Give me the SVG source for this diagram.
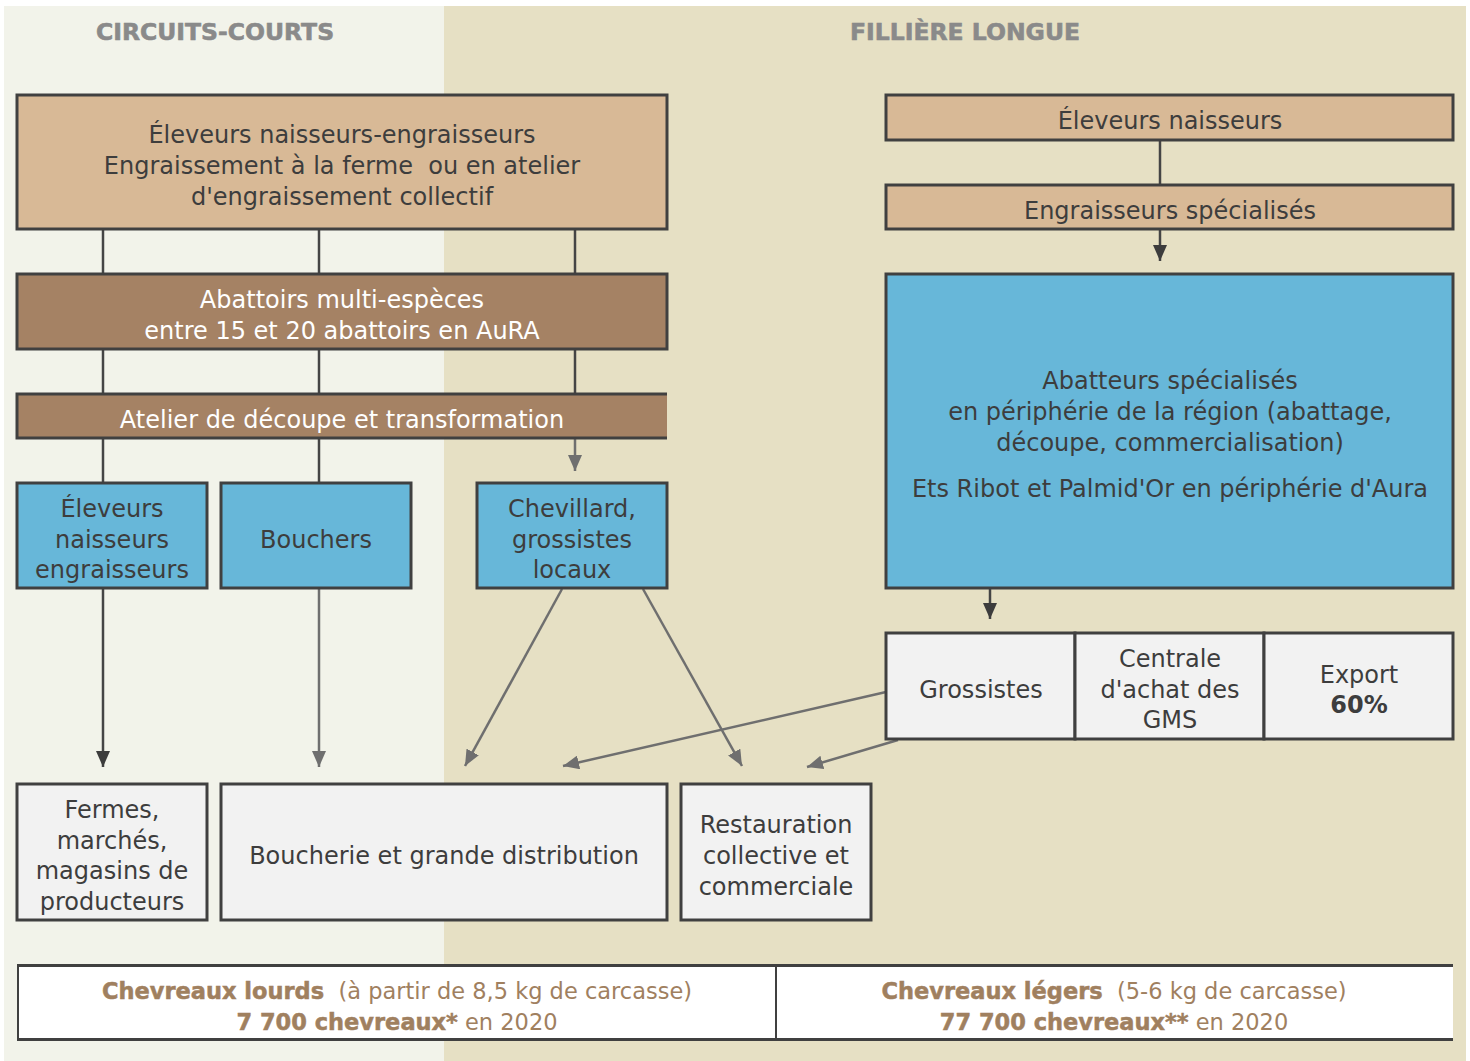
<svg xmlns="http://www.w3.org/2000/svg" width="1470" height="1061" viewBox="0 0 1470 1061">
<style>
text{font-family:"DejaVu Sans","Liberation Sans",sans-serif;font-size:24px;fill:#3d3d3d;text-anchor:middle}
.hdr{font-size:23.5px;font-weight:900;fill:#8a8a8a;stroke:#8a8a8a;stroke-width:0.6}
.w{fill:#ffffff}
.box{stroke:#404040;stroke-width:3}
.tan{fill:#D8B996}
.brn{fill:#A58264}
.blu{fill:#67B7D9}
.gry{fill:#F2F2F2}
.leg{font-size:22.5px;fill:#A0805F}
.b{font-weight:bold}
.lb{font-weight:bold;stroke:#A0805F;stroke-width:0.5}
.cd{stroke:#454545;stroke-width:2.5;fill:none}
.cg{stroke:#6f6f6f;stroke-width:2.5;fill:none}
</style>
<defs>
<marker id="ad" markerUnits="userSpaceOnUse" markerWidth="16" markerHeight="14" refX="16" refY="7" orient="auto"><path d="M0,0 L16,7 L0,14 z" fill="#3c3c3c"/></marker>
<marker id="ag" markerUnits="userSpaceOnUse" markerWidth="16" markerHeight="14" refX="16" refY="7" orient="auto"><path d="M0,0 L16,7 L0,14 z" fill="#6f6f6f"/></marker>
</defs>
<rect x="0" y="0" width="1470" height="1061" fill="#ffffff"/>
<rect x="4" y="6" width="440" height="1055" fill="#F2F3EA"/>
<rect x="444" y="6" width="1022" height="1055" fill="#E6E0C4"/>
<text class="hdr" x="215" y="40">CIRCUITS-COURTS</text>
<text class="hdr" x="965" y="40">FILLIÈRE LONGUE</text>

<g id="connectors">
<line class="cd" x1="103" y1="229" x2="103" y2="274"/>
<line class="cd" x1="319" y1="229" x2="319" y2="274"/>
<line class="cd" x1="575" y1="229" x2="575" y2="274"/>
<line class="cd" x1="103" y1="349" x2="103" y2="394"/>
<line class="cd" x1="319" y1="349" x2="319" y2="394"/>
<line class="cd" x1="575" y1="349" x2="575" y2="394"/>
<line class="cd" x1="103" y1="438" x2="103" y2="483"/>
<line class="cd" x1="319" y1="438" x2="319" y2="483"/>
<line class="cg" x1="575" y1="438" x2="575" y2="471" marker-end="url(#ag)"/>
<line class="cd" x1="103" y1="588" x2="103" y2="767" marker-end="url(#ad)"/>
<line class="cg" x1="319" y1="588" x2="319" y2="767" marker-end="url(#ag)"/>
<line class="cg" x1="562" y1="589" x2="465" y2="766" marker-end="url(#ag)"/>
<line class="cg" x1="643" y1="589" x2="742" y2="766" marker-end="url(#ag)"/>
<line class="cg" x1="886" y1="692" x2="563" y2="766" marker-end="url(#ag)"/>
<line class="cg" x1="898" y1="740" x2="807" y2="767" marker-end="url(#ag)"/>
<line class="cd" x1="1160" y1="140" x2="1160" y2="185"/>
<line class="cd" x1="1160" y1="229" x2="1160" y2="261" marker-end="url(#ad)"/>
<line class="cd" x1="990" y1="588" x2="990" y2="619" marker-end="url(#ad)"/>
</g>

<g id="n-eleveurs-ne">
<rect class="box tan" x="17" y="95" width="650" height="134"/>
<text x="342" y="143">Éleveurs naisseurs-engraisseurs</text>
<text x="342" y="174">Engraissement à la ferme&#160; ou en atelier</text>
<text x="342" y="205">d'engraissement collectif</text>
</g>
<g id="n-abattoirs">
<rect class="box brn" x="17" y="274" width="650" height="75"/>
<text class="w" x="342" y="308">Abattoirs multi-espèces</text>
<text class="w" x="342" y="339">entre 15 et 20 abattoirs en AuRA</text>
</g>
<g id="n-atelier">
<rect class="brn" x="17" y="394" width="650" height="44"/>
<path class="box" d="M667,394 H17 V438 H667" fill="none"/>
<text class="w" x="342" y="428">Atelier de découpe et transformation</text>
</g>
<g id="n-eleveurs-blue">
<rect class="box blu" x="17" y="483" width="190" height="105"/>
<text x="112" y="517">Éleveurs</text>
<text x="112" y="548">naisseurs</text>
<text x="112" y="578">engraisseurs</text>
</g>
<g id="n-bouchers">
<rect class="box blu" x="221" y="483" width="190" height="105"/>
<text x="316" y="548">Bouchers</text>
</g>
<g id="n-chevillard">
<rect class="box blu" x="477" y="483" width="190" height="105"/>
<text x="572" y="517">Chevillard,</text>
<text x="572" y="548">grossistes</text>
<text x="572" y="578">locaux</text>
</g>
<g id="n-eleveurs-naisseurs">
<rect class="box tan" x="886" y="95" width="567" height="45"/>
<text x="1170" y="129">Éleveurs naisseurs</text>
</g>
<g id="n-engraisseurs">
<rect class="box tan" x="886" y="185" width="567" height="44"/>
<text x="1170" y="219">Engraisseurs spécialisés</text>
</g>
<g id="n-abatteurs">
<rect class="box blu" x="886" y="274" width="567" height="314"/>
<text x="1170" y="389">Abatteurs spécialisés</text>
<text x="1170" y="420">en périphérie de la région (abattage,</text>
<text x="1170" y="451">découpe, commercialisation)</text>
<text x="1170" y="497">Ets Ribot et Palmid'Or en périphérie d'Aura</text>
</g>
<g id="n-grossistes">
<rect class="box gry" x="886" y="633" width="189" height="106"/>
<text x="981" y="698">Grossistes</text>
</g>
<g id="n-centrale">
<rect class="box gry" x="1075" y="633" width="189" height="106"/>
<text x="1170" y="667">Centrale</text>
<text x="1170" y="698">d'achat des</text>
<text x="1170" y="728">GMS</text>
</g>
<g id="n-export">
<rect class="box gry" x="1264" y="633" width="189" height="106"/>
<text x="1359" y="683">Export</text>
<text class="b" x="1359" y="713">60%</text>
</g>
<g id="n-fermes">
<rect class="box gry" x="17" y="784" width="190" height="136"/>
<text x="112" y="818">Fermes,</text>
<text x="112" y="849">marchés,</text>
<text x="112" y="879">magasins de</text>
<text x="112" y="910">producteurs</text>
</g>
<g id="n-boucherie">
<rect class="box gry" x="221" y="784" width="446" height="136"/>
<text x="444" y="864">Boucherie et grande distribution</text>
</g>
<g id="n-restauration">
<rect class="box gry" x="681" y="784" width="190" height="136"/>
<text x="776" y="833">Restauration</text>
<text x="776" y="864">collective et</text>
<text x="776" y="895">commerciale</text>
</g>
<g id="legend">
<rect x="17" y="965" width="1436" height="75" fill="#ffffff"/>
<line x1="17" y1="965.5" x2="1453" y2="965.5" stroke="#404040" stroke-width="3"/>
<line x1="17" y1="1039.5" x2="1453" y2="1039.5" stroke="#404040" stroke-width="3"/>
<line x1="18" y1="965" x2="18" y2="1040" stroke="#404040" stroke-width="2"/>
<line x1="776" y1="965" x2="776" y2="1040" stroke="#404040" stroke-width="2"/>
<text class="leg" x="397" y="999"><tspan class="lb">Chevreaux lourds</tspan>&#160; (à partir de 8,5 kg de carcasse)</text>
<text class="leg" x="397" y="1030"><tspan class="lb">7 700 chevreaux*</tspan> en 2020</text>
<text class="leg" x="1114" y="999"><tspan class="lb">Chevreaux légers</tspan>&#160; (5-6 kg de carcasse)</text>
<text class="leg" x="1114" y="1030"><tspan class="lb">77 700 chevreaux**</tspan> en 2020</text>
</g>
</svg>
